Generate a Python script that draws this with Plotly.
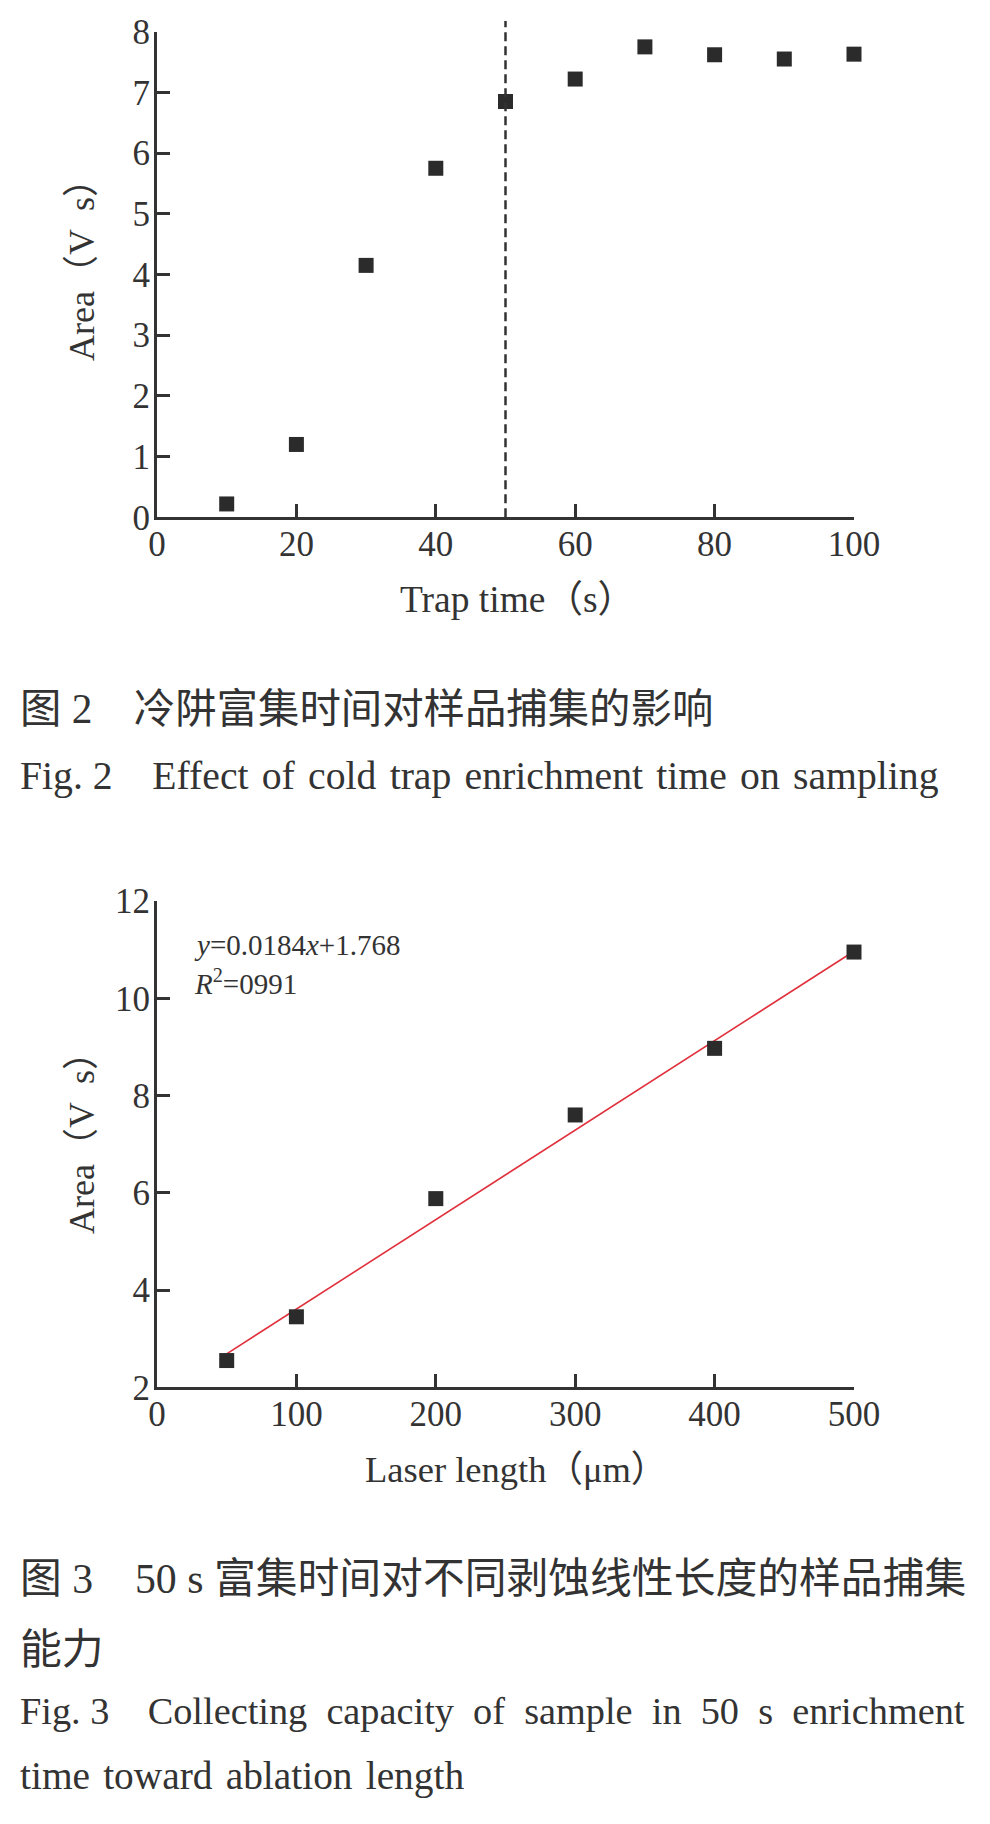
import plotly.graph_objects as go

# ---------------- data ----------------
trap_time = [10, 20, 30, 40, 50, 60, 70, 80, 90, 100]
area_trap = [0.22, 1.20, 4.15, 5.75, 6.85, 7.22, 7.75, 7.62, 7.55, 7.63]
optimal_time = 50

laser_length = [50, 100, 200, 300, 400, 500]
area_laser = [2.55, 3.45, 5.88, 7.60, 8.97, 10.95]
fit_slope = 0.0184
fit_intercept = 1.768
fit_r2_text = "0991"

x1_ticks = [0, 20, 40, 60, 80, 100]
y1_ticks = [0, 1, 2, 3, 4, 5, 6, 7, 8]
x2_ticks = [0, 100, 200, 300, 400, 500]
y2_ticks = [2, 4, 6, 8, 10, 12]

cap2_cn = "图 2\u3000冷阱富集时间对样品捕集的影响"
cap2_en = "Fig. 2\u3000Effect\u2004of\u2004cold\u2004trap\u2004enrichment\u2004time\u2004on\u2004sampling"
cap3_cn_1 = "图 3\u300050 s 富集时间对不同剥蚀线性长度的样品捕集"
cap3_cn_2 = "能力"
cap3_en_1 = "Fig. 3\u3000Collecting\u2002capacity\u2002of\u2002sample\u2002in\u200250\u2002s\u2002enrichment"
cap3_en_2 = "time\u2004toward\u2004ablation\u2004length"

# ---------------- layout helpers ----------------
W, H = 990, 1824
OFF = 8  # page body margin
def px(xpage):
    return (xpage - OFF) / W
def py(ypage):
    return 1 - (ypage - OFF) / H

SERIF = "Liberation Serif, Noto Sans CJK SC"
INK = "#333333"
xdom = [px(157), px(854)]
ydom1 = [py(517.3), py(31.7)]
ydom2 = [py(1387.3), py(901)]

fig = go.Figure()

fit_x = [min(laser_length), max(laser_length)]
fit_y = [fit_slope * v + fit_intercept for v in fit_x]

fig.add_trace(go.Scatter(x=trap_time, y=area_trap, mode="markers",
                         marker=dict(symbol="square", size=15, color="#2b2b2b"),
                         xaxis="x", yaxis="y", showlegend=False, cliponaxis=False))
fig.add_trace(go.Scatter(x=fit_x, y=fit_y, mode="lines",
                         line=dict(color="#e0303c", width=1.6),
                         xaxis="x2", yaxis="y2", showlegend=False))
fig.add_trace(go.Scatter(x=laser_length, y=area_laser, mode="markers",
                         marker=dict(symbol="square", size=15, color="#2b2b2b"),
                         xaxis="x2", yaxis="y2", showlegend=False, cliponaxis=False))

axis_common = dict(showline=True, linewidth=3, linecolor=INK, ticks="inside",
                   ticklen=13, tickwidth=2.5, tickcolor=INK, showgrid=False,
                   zeroline=False, automargin=False,
                   tickfont=dict(family=SERIF, size=35, color=INK))
xstyle = dict(ticklabelstandoff=-6, **axis_common)
ystyle = dict(ticklabelstandoff=-3, **axis_common)

fig.update_layout(
    template="none",
    width=W, height=H, margin=dict(l=0, r=0, t=0, b=0, pad=0),
    paper_bgcolor="white", plot_bgcolor="white", showlegend=False,
    xaxis=dict(domain=xdom, anchor="y", range=[0, 100], tickvals=x1_ticks, **xstyle),
    yaxis=dict(domain=ydom1, anchor="x", range=[0, 8], tickvals=y1_ticks, **ystyle),
    xaxis2=dict(domain=xdom, anchor="y2", range=[0, 500], tickvals=x2_ticks, **xstyle),
    yaxis2=dict(domain=ydom2, anchor="x2", range=[2, 12], tickvals=y2_ticks, **ystyle),
)

fig.add_shape(type="line", xref="x", yref="paper", x0=optimal_time, x1=optimal_time,
              y0=ydom1[0], y1=py(21), line=dict(color=INK, width=2.5, dash="9px,5px"))

def ann(text, xpage, ypage, size, xanchor="left", angle=0, family=SERIF, color=INK):
    fig.add_annotation(text=text, xref="paper", yref="paper", x=px(xpage), y=py(ypage),
                       xanchor=xanchor, yanchor="middle", showarrow=False,
                       textangle=angle, font=dict(family=family, size=size, color=color))

# axis titles
ann("Area（V\u2002s）", 82, 261, 36, xanchor="center", angle=-90)
ann("Trap time（s）", 517, 599, 37.5, xanchor="center")
ann("Area（V\u2002s）", 82, 1134, 36, xanchor="center", angle=-90)
ann("Laser length（μm）", 516, 1469, 36.5, xanchor="center")

# regression text
ann("<i>y</i>=%.4f<i>x</i>+%.3f" % (fit_slope, fit_intercept), 192, 945, 29)
ann("<i>R</i><sup>2</sup>=" + fit_r2_text, 192, 982, 29)

# captions
ann(cap2_cn, 18, 709, 41.4)
ann(cap2_en, 18, 776, 39.7)
ann(cap3_cn_1, 18, 1579, 41.8)
ann(cap3_cn_2, 18, 1650, 41.8)
ann(cap3_en_1, 18, 1711, 38.3)
ann(cap3_en_2, 18, 1776, 39.4)

fig.write_html("out.html")
